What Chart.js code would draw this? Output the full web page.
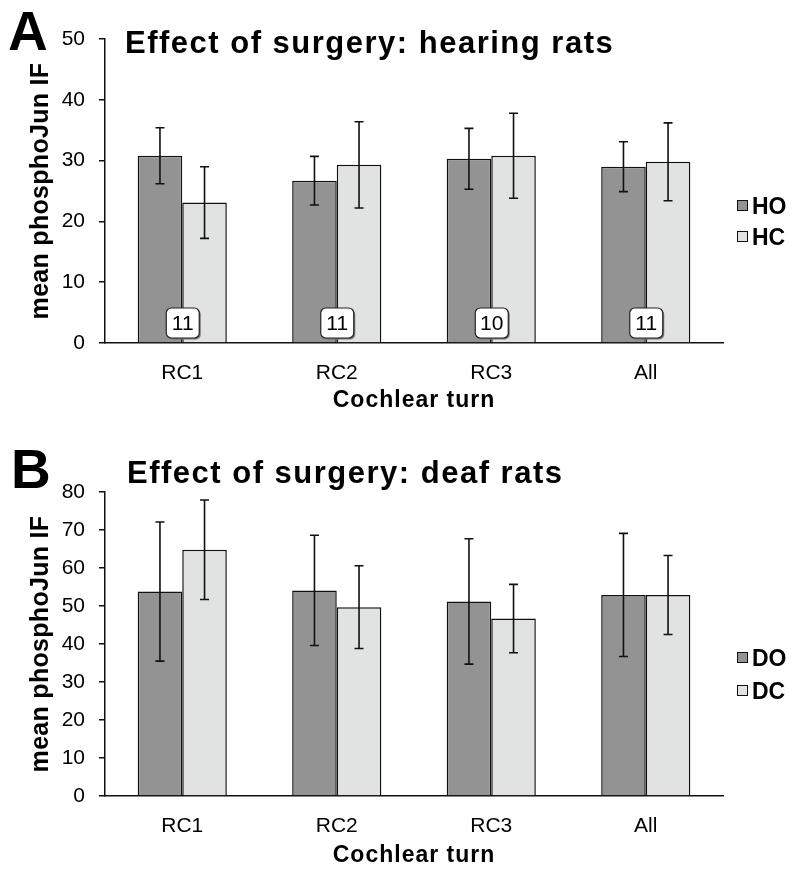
<!DOCTYPE html>
<html>
<head>
<meta charset="utf-8">
<script src="https://cdn.jsdelivr.net/npm/chart.js@4.4.1/dist/chart.umd.min.js"></script>
<style>
  body { margin: 0; background: #fff; }
  .panel { position: relative; width: 800px; }
</style>
</head>
<body>
<div class="panel" style="height:435px"><canvas id="hearing"></canvas></div>
<div class="panel" style="height:436px"><canvas id="deaf"></canvas></div>
<script>
// categories
var turns = ["RC1", "RC2", "RC3", "All"];

// panel A: hearing rats
var hoMean = [30.8, 26.7, 30.3, 29.0];
var hoErr = [4.6, 4.0, 5.0, 4.1];
var hcMean = [23.1, 29.3, 30.8, 29.8];
var hcErr = [5.9, 7.1, 7.0, 6.4];
var hearingN = ["11", "11", "10", "11"];
var hearingTicks = [0, 10, 20, 30, 40, 50];

// panel B: deaf rats
var doMean = [53.8, 54.1, 51.2, 52.9];
var doErr = [18.3, 14.5, 16.5, 16.2];
var dcMean = [64.8, 49.7, 46.7, 52.9];
var dcErr = [13.1, 10.9, 9.0, 10.4];
var deafTicks = [0, 10, 20, 30, 40, 50, 60, 70, 80];

var DARK = "#939393";
var LIGHT = "#e1e2e2";
var FONT = "'Liberation Sans', Arial, Helvetica, sans-serif";

// error bars, n boxes, panel letter, titles and legend
var extras = {
  id: "extras",
  afterDatasetsDraw: function (chart) {
    var opts = chart.options.plugins.extras;
    var ctx = chart.ctx;
    var y = chart.scales.y;
    var x = chart.scales.x;
    ctx.save();
    ctx.strokeStyle = "#111";
    ctx.lineWidth = 1.6;
    chart.data.datasets.forEach(function (ds, i) {
      var meta = chart.getDatasetMeta(i);
      meta.data.forEach(function (bar, j) {
        var err = ds.errors[j];
        var top = y.getPixelForValue(ds.data[j] + err);
        var bot = y.getPixelForValue(ds.data[j] - err);
        ctx.beginPath();
        ctx.moveTo(bar.x, top);
        ctx.lineTo(bar.x, bot);
        ctx.moveTo(bar.x - 4.5, top);
        ctx.lineTo(bar.x + 4.5, top);
        ctx.moveTo(bar.x - 4.5, bot);
        ctx.lineTo(bar.x + 4.5, bot);
        ctx.stroke();
      });
    });

    if (opts.nLabels) {
      var base = y.getPixelForValue(0);
      opts.nLabels.forEach(function (n, j) {
        var cx = x.getPixelForValue(j);
        var bx = cx - 16, by = base - 35, bw = 33, bh = 30;
        ctx.fillStyle = "#777";
        ctx.beginPath();
        ctx.roundRect(bx + 1.5, by + 1.5, bw, bh, 5);
        ctx.fill();
        ctx.fillStyle = "#fff";
        ctx.strokeStyle = "#222";
        ctx.lineWidth = 1.2;
        ctx.beginPath();
        ctx.roundRect(bx, by, bw, bh, 5);
        ctx.fill();
        ctx.stroke();
        ctx.fillStyle = "#000";
        ctx.font = "21px " + FONT;
        ctx.textAlign = "center";
        ctx.textBaseline = "middle";
        ctx.fillText(n, bx + bw / 2, by + bh / 2 + 1);
      });
    }
    ctx.restore();
  },
  afterDraw: function (chart) {
    var opts = chart.options.plugins.extras;
    var ctx = chart.ctx;
    var area = chart.chartArea;
    ctx.save();
    ctx.fillStyle = "#000";
    ctx.textAlign = "left";
    ctx.textBaseline = "alphabetic";
    ctx.font = "bold 55px " + FONT;
    ctx.fillText(opts.letter, opts.letterX, opts.letterY);

    ctx.letterSpacing = "1.5px";
    ctx.font = "bold 31px " + FONT;
    ctx.textBaseline = "middle";
    ctx.fillText(opts.title, opts.titleX, opts.titleY);

    // axis titles
    ctx.textAlign = "center";
    ctx.letterSpacing = "1px";
    ctx.font = "bold 23px " + FONT;
    ctx.fillText("Cochlear turn", (area.left + area.right) / 2, opts.xTitleY);

    ctx.save();
    ctx.translate(41, (area.top + area.bottom) / 2);
    ctx.rotate(-Math.PI / 2);
    ctx.letterSpacing = "0.3px";
    ctx.font = "bold 25px " + FONT;
    ctx.fillText("mean phosphoJun IF", 0, 0);
    ctx.restore();

    ctx.textAlign = "left";
    ctx.letterSpacing = "0px";
    chart.data.datasets.forEach(function (ds, i) {
      var ly = opts.legendY[i];
      ctx.fillStyle = ds.backgroundColor;
      ctx.strokeStyle = "#111";
      ctx.lineWidth = 1;
      ctx.fillRect(737.5, ly - 6.5, 10, 10);
      ctx.strokeRect(737.5, ly - 6.5, 10, 10);
      ctx.fillStyle = "#000";
      ctx.font = "bold 23px " + FONT;
      ctx.fillText(ds.label, 752, ly + 1);
    });
    ctx.restore();
  }
};

function makeChart(id, cfg) {
  return new Chart(document.getElementById(id), {
    type: "bar",
    data: {
      labels: turns,
      datasets: [
        { label: cfg.names[0], data: cfg.a, errors: cfg.aErr, backgroundColor: DARK,
          borderColor: "#111", borderWidth: 1.5, categoryPercentage: 0.577, barPercentage: 1 },
        { label: cfg.names[1], data: cfg.b, errors: cfg.bErr, backgroundColor: LIGHT,
          borderColor: "#111", borderWidth: 1.5, categoryPercentage: 0.577, barPercentage: 1 }
      ]
    },
    options: {
      responsive: true,
      maintainAspectRatio: false,
      animation: false,
      layout: { padding: { top: cfg.top, right: 77, left: 0, bottom: 0 } },
      plugins: {
        legend: { display: false },
        tooltip: { enabled: false },
        extras: cfg.extras
      },
      scales: {
        x: {
          afterFit: function (s) { s.height = cfg.xHeight; },
          grid: { display: false, drawTicks: false },
          border: { color: "#111", width: 1.5 },
          ticks: { color: "#000", padding: 18, font: { family: FONT, size: 21 } }
        },
        y: {
          min: 0,
          max: cfg.ticks[cfg.ticks.length - 1],
          afterFit: function (s) { s.width = 105; },
          afterBuildTicks: function (s) { s.ticks = cfg.ticks.map(function (v) { return { value: v }; }); },
          grid: { drawOnChartArea: false, color: "#111", lineWidth: 1.5, tickLength: 6 },
          border: { color: "#111", width: 1.5 },
          ticks: { color: "#000", padding: 14, font: { family: FONT, size: 21 } }
        }
      }
    },
    plugins: [extras]
  });
}

makeChart("hearing", {
  names: ["HO", "HC"],
  a: hoMean, aErr: hoErr, b: hcMean, bErr: hcErr,
  ticks: hearingTicks,
  top: 39, xHeight: 92,
  extras: { letter: "A", letterX: 8, letterY: 50, title: "Effect of surgery: hearing rats",
            titleX: 125, titleY: 44, xTitleY: 401, legendY: [207, 238], nLabels: hearingN }
});

makeChart("deaf", {
  names: ["DO", "DC"],
  a: doMean, aErr: doErr, b: dcMean, bErr: dcErr,
  ticks: deafTicks,
  top: 57, xHeight: 75,
  extras: { letter: "B", letterX: 11, letterY: 53, title: "Effect of surgery: deaf rats",
            titleX: 127, titleY: 39, xTitleY: 421, legendY: [224, 257], nLabels: null }
});
</script>
</body>
</html>
